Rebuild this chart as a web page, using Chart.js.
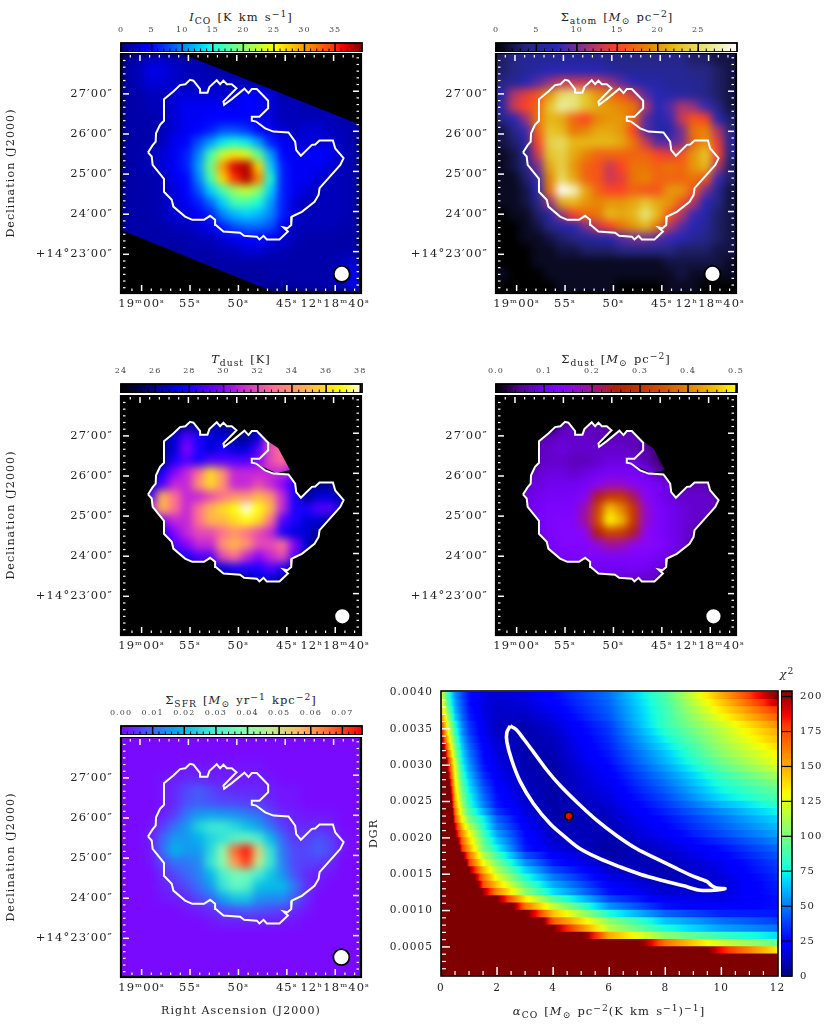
<!DOCTYPE html>
<html>
<head>
<meta charset="utf-8">
<script src="https://cdn.jsdelivr.net/npm/chart.js@4/dist/chart.umd.min.js"></script>
<style>
  html, body { margin: 0; padding: 0; background: #fff; }
  body { position: relative; width: 830px; height: 1030px; overflow: hidden; }
  canvas { position: absolute; }
  .lbl { position: absolute; transform: translate(-50%, -50%); white-space: nowrap; color: #222;
         font: 11.5px "DejaVu Serif", serif; word-spacing: 1.5px; letter-spacing: 1px; }
  .lbl sub, .lbl sup { font-size: 80%; line-height: 0; }
  .lbl sub { vertical-align: -3px; }
  .lbl sup { vertical-align: 4px; }
</style>
</head>
<body>
<canvas id="cbCo" width="300" height="26" style="left:91px;top:26px"></canvas>
<canvas id="cbAtom" width="300" height="26" style="left:466px;top:26px"></canvas>
<canvas id="cbTd" width="300" height="26" style="left:91px;top:367px"></canvas>
<canvas id="cbSd" width="300" height="26" style="left:466px;top:367px"></canvas>
<canvas id="cbSfr" width="300" height="26" style="left:91px;top:709px"></canvas>
<canvas id="mapCo" width="390" height="284" style="left:0;top:53px"></canvas>
<canvas id="mapAtom" width="390" height="284" style="left:375px;top:53px"></canvas>
<canvas id="mapTd" width="390" height="284" style="left:0;top:395px"></canvas>
<canvas id="mapSd" width="390" height="284" style="left:375px;top:395px"></canvas>
<canvas id="mapSfr" width="390" height="288" style="left:0;top:737px"></canvas>
<canvas id="chi2" width="425" height="345" style="left:367px;top:685px"></canvas>
<canvas id="cbChi" width="49" height="295" style="left:781px;top:686px"></canvas>

<div class="lbl" style="left:241px;top:17px"><i>I</i><sub>CO</sub> [K km s<sup>−1</sup>]</div>
<div class="lbl" style="left:617px;top:17px">Σ<sub>atom</sub> [<i>M</i><sub>⊙</sub> pc<sup>−2</sup>]</div>
<div class="lbl" style="left:241px;top:359px"><i>T</i><sub>dust</sub> [K]</div>
<div class="lbl" style="left:616px;top:359px">Σ<sub>dust</sub> [<i>M</i><sub>⊙</sub> pc<sup>−2</sup>]</div>
<div class="lbl" style="left:241px;top:700px">Σ<sub>SFR</sub> [<i>M</i><sub>⊙</sub> yr<sup>−1</sup> kpc<sup>−2</sup>]</div>
<div class="lbl" style="left:609px;top:1011px"><i>α</i><sub>CO</sub> [<i>M</i><sub>⊙</sub> pc<sup>−2</sup>(K km s<sup>−1</sup>)<sup>−1</sup>]</div>
<div class="lbl" style="left:787px;top:674px"><i>χ</i><sup>2</sup></div>

<script>
// map grid: RA seconds after 12h19m00s (increasing to the west), Dec arcmin above +14d23m
const gridRa = [-1.34, -0.10, 1.14, 2.38, 3.62, 4.86, 6.10, 7.34, 8.58, 9.82, 11.06, 12.30, 13.54, 14.78, 16.02, 17.26, 18.50, 19.74, 20.98, 22.22];
const gridDec = [4.87, 4.57, 4.27, 3.97, 3.67, 3.37, 3.07, 2.78, 2.48, 2.18, 1.88, 1.58, 1.28, 0.98, 0.68, 0.39, 0.09, -0.21, -0.51, -0.81];

const raTicks = [0, 5, 10, 15, 20];
const raLabels = ['19ᵐ00ˢ', '55ˢ', '50ˢ', '45ˢ', '12ʰ18ᵐ40ˢ'];
const decTicks = [4, 3, 2, 1, 0];
const decLabels = ['27′00″', '26′00″', '25′00″', '24′00″', '+14°23′00″'];

// I_CO [K km/s]
const coMap = [
  [1, 1.5, 2.5, 2.5, 2, 1.5, 1.5, 1.5, 1.5, 1.5, 1.5, 1.5, 1.5, 1.5, 1.5, 1.5, 1.5, 1.5, 1.5, 1.5],
  [1.5, 2, 3.5, 3.5, 2.5, 2, 2, 1.5, 1.5, 1.5, 1.5, 1.5, 1.5, 1.5, 1.5, 1.5, 1.5, 1.5, 1.5, 1.5],
  [1.5, 2, 3, 3, 2.5, 2, 2, 2, 2, 2, 1.5, 1.5, 1.5, 1.5, 1.5, 1.5, 1.5, 1.5, 1.5, 1.5],
  [1.5, 1.5, 2, 2, 3, 3, 3, 3, 3, 3, 5, 4, 3, 1.5, 1.5, 1.5, 1.5, 1.5, 1.5, 1.5],
  [1.5, 1.5, 2, 2, 3, 4, 4, 4, 4, 4, 5, 5, 3, 2, 2, 1.5, 1.5, 1.5, 1.5, 1.5],
  [1.5, 1.5, 1.5, 2, 3, 4, 4, 5, 5, 5, 5, 4, 3, 2, 2, 2, 2, 2, 1.5, 1.5],
  [1.5, 1.5, 1.5, 2, 3, 4, 5, 6, 8, 8, 7, 5, 4, 3, 2, 3, 3, 2, 2, 1.5],
  [1.5, 1.5, 1.5, 2, 4, 5, 8, 11, 14, 15, 14, 11, 6, 4, 3, 3, 3, 3, 2, 1.5],
  [1.5, 1.5, 2, 3, 4, 6, 10, 17, 23, 26, 24, 18, 11, 5, 4, 4, 5, 4, 2, 1.5],
  [1.5, 1.5, 2, 3, 4, 6, 11, 19, 30, 37, 38, 27, 13, 6, 4, 4, 4, 3, 2, 1.5],
  [1.5, 1.5, 1.5, 2, 4, 5, 10, 17, 27, 35, 38, 31, 15, 6, 4, 4, 3, 2, 2, 1.5],
  [1.5, 1.5, 1.5, 2, 3, 5, 8, 13, 17, 21, 23, 20, 13, 6, 4, 3, 2, 2, 2, 1.5],
  [1.5, 1.5, 1.5, 2, 3, 4, 6, 9, 13, 17, 17, 15, 11, 6, 3, 2, 2, 2, 2, 1.5],
  [1.5, 1.5, 1.5, 2, 3, 3, 4, 6, 10, 12, 13, 12, 10, 6, 3, 2, 2, 2, 2, 1.5],
  [1.5, 1.5, 1.5, 1.5, 2, 2, 3, 4, 6, 8, 9, 9, 8, 4, 2, 2, 2, 2, 1.5, 1.5],
  [1.5, 1.5, 1.5, 1.5, 1.5, 1.5, 2, 2, 3, 4, 5, 5, 4, 3, 2, 1.5, 1.5, 1.5, 1.5, 1.5],
  [1.5, 1.5, 1.5, 1.5, 1, 1.5, 1.5, 1.5, 2, 2, 3, 3, 2, 2, 1.5, 1.5, 1.5, 1.5, 1.5, 1.5],
  [1.5, 1.5, 1.5, 1.5, 1.5, 1.5, 1.5, 1, 1.5, 1.5, 1.5, 1.5, 1.5, 1.5, 1.5, 1.5, 1.5, 1.5, 2, 3],
  [1.5, 1.5, 1.5, 1.5, 1.5, 1.5, 1.5, 1.5, 1.5, 1, 1, 1, 1.5, 1.5, 1.5, 1.5, 1.5, 1.5, 2, 4],
  [1.5, 1.5, 1.5, 1.5, 1.5, 1.5, 1.5, 1.5, 1.5, 1.5, 1.5, 1.5, 1, 1, 1.5, 1.5, 1.5, 1.5, 2, 4],
];
// edge of the CO coverage
const coverRa = [-2.76, 3.31, 23.45, 23.45, 15.86, -2.76];
const coverDec = [5.1, 5.1, 3.16, -1.14, -1.14, 0.69];

// Sigma_atom [Msun/pc2]
const atomMap = [
  [3, 4, 5, 5, 5, 5, 5, 5, 5, 4, 4, 4, 4, 4, 4, 4, 3, 3, 2, 2],
  [3, 4, 5, 6, 7, 7, 7, 7, 7, 6, 5, 5, 5, 5, 5, 5, 4, 4, 3, 2],
  [4, 5, 7, 9, 11, 13, 13, 13, 13, 11, 9, 7, 6, 6, 5, 5, 5, 4, 3, 2],
  [6, 12, 14, 16, 20, 25, 26, 23, 20, 18, 16, 13, 9, 7, 6, 6, 5, 4, 3, 2],
  [6, 13, 15, 17, 23, 27, 26, 23, 21, 20, 19, 18, 12, 7, 9, 12, 11, 8, 4, 2],
  [4, 7, 11, 18, 22, 21, 17, 15, 19, 20, 20, 17, 9, 6, 8, 13, 16, 15, 7, 3],
  [2, 4, 8, 17, 23, 22, 18, 19, 21, 21, 20, 15, 9, 6, 6, 10, 18, 19, 12, 4],
  [2, 3, 6, 15, 24, 25, 22, 22, 22, 22, 21, 18, 13, 9, 9, 10, 17, 20, 14, 5],
  [1, 2, 5, 13, 23, 24, 21, 19, 17, 17, 17, 17, 17, 15, 14, 16, 20, 23, 15, 4],
  [1, 2, 4, 10, 21, 24, 20, 17, 16, 13, 15, 18, 18, 17, 18, 17, 20, 22, 12, 3],
  [1, 1, 3, 8, 19, 25, 21, 17, 16, 13, 14, 18, 19, 17, 17, 17, 18, 16, 8, 3],
  [1, 1, 2, 7, 18, 30, 28, 21, 17, 15, 15, 17, 16, 16, 20, 20, 16, 10, 5, 2],
  [1, 1, 2, 4, 11, 21, 22, 20, 19, 20, 20, 21, 23, 21, 20, 16, 12, 7, 4, 2],
  [0, 1, 1, 3, 6, 11, 15, 17, 18, 22, 21, 22, 26, 22, 16, 12, 8, 6, 3, 2],
  [0, 0, 1, 2, 4, 6, 7, 10, 13, 15, 18, 20, 22, 18, 12, 9, 7, 5, 3, 2],
  [0, 0, 1, 1, 2, 3, 4, 5, 6, 7, 9, 10, 10, 9, 8, 7, 5, 4, 3, 2],
  [0, 0, 0, 1, 1, 2, 2, 3, 3, 3, 4, 4, 4, 4, 4, 3, 3, 3, 2, 2],
  [0, 0, 0, 1, 1, 1, 1, 1, 1, 1, 1, 1, 1, 1, 2, 2, 2, 2, 2, 1],
  [1, 0, 0, 0, 1, 1, 1, 1, 1, 1, 1, 1, 1, 1, 1, 2, 1, 1, 1, 1],
  [0, 0, 0, 0, 0, 1, 1, 1, 1, 1, 0, 0, 0, 0, 1, 1, 1, 0, 0, 0],
];

// T_dust [K]
const tdustMap = [
  [24, 24, 24, 24, 24, 24, 24, 24, 24, 24, 24, 24, 24, 24, 24, 24, 24, 24, 24, 24],
  [24, 24, 24, 24, 24, 24, 24, 24, 24, 24, 24, 24, 24, 24, 24, 24, 24, 24, 24, 24],
  [24, 24, 24, 24, 25, 26, 26, 26, 26, 26, 26, 26, 28, 28, 24, 24, 24, 24, 24, 24],
  [24, 24, 24, 26, 27, 29, 28, 27, 27, 26, 26, 27, 32, 33, 31, 24, 24, 24, 24, 24],
  [24, 24, 24, 26, 27, 30, 28, 27, 28, 27, 27, 29, 32, 33, 31, 28, 24, 24, 24, 24],
  [24, 24, 24, 26, 28, 29, 28, 29, 29, 29, 29, 30, 32, 33, 31, 28, 24, 24, 24, 24],
  [24, 24, 26, 28, 30, 31, 33, 36, 34, 31, 31, 31, 31, 31, 30, 28, 24, 24, 24, 24],
  [24, 24, 27, 29, 31, 31, 34, 36, 34, 31, 31, 32, 31, 30, 28, 26, 26, 26, 26, 24],
  [24, 26, 29, 35, 33, 31, 31, 32, 33, 34, 34, 35, 34, 31, 28, 26, 27, 27, 26, 24],
  [24, 27, 31, 35, 33, 31, 33, 35, 36, 37, 38, 37, 35, 31, 28, 28, 29, 29, 27, 24],
  [24, 25, 28, 30, 31, 31, 33, 35, 35, 36, 37, 36, 33, 29, 28, 27, 27, 26, 25, 24],
  [24, 24, 26, 28, 30, 31, 32, 32, 33, 34, 33, 32, 31, 28, 27, 27, 26, 25, 24, 24],
  [24, 24, 25, 27, 29, 30, 31, 31, 34, 35, 34, 32, 32, 33, 30, 27, 25, 24, 24, 24],
  [24, 24, 24, 26, 27, 28, 29, 29, 32, 33, 31, 30, 31, 32, 29, 26, 24, 24, 24, 24],
  [24, 24, 24, 24, 25, 26, 26, 27, 27, 28, 28, 28, 29, 28, 26, 24, 24, 24, 24, 24],
  [24, 24, 24, 24, 24, 24, 24, 25, 26, 26, 26, 27, 27, 26, 24, 24, 24, 24, 24, 24],
  [24, 24, 24, 24, 24, 24, 24, 24, 24, 24, 24, 24, 24, 24, 24, 24, 24, 24, 24, 24],
];

// Sigma_dust [Msun/pc2]
const sdustMap = [
  [0, 0, 0, 0, 0, 0, 0, 0, 0, 0, 0, 0, 0, 0, 0, 0, 0, 0, 0, 0],
  [0, 0, 0, 0, 0, 0, 0, 0, 0, 0, 0, 0, 0, 0, 0, 0, 0, 0, 0, 0],
  [0, 0, 0, 0, 0, .06, .07, .07, .07, .06, .06, .06, 0, 0, 0, 0, 0, 0, 0, 0],
  [0, 0, 0, .06, .07, .08, .08, .08, .07, .07, .07, .07, .05, 0, 0, 0, 0, 0, 0, 0],
  [0, 0, 0, .07, .08, .09, .08, .08, .08, .08, .08, .07, .06, .04, 0, 0, 0, 0, 0, 0],
  [0, 0, 0, .07, .08, .08, .07, .07, .08, .09, .09, .09, .07, .04, 0, 0, 0, 0, 0, 0],
  [0, 0, .07, .08, .09, .09, .08, .09, .10, .11, .11, .11, .10, .07, .04, 0, 0, 0, 0, 0],
  [0, .06, .08, .09, .10, .10, .10, .11, .14, .17, .17, .14, .12, .11, .09, .07, .07, .07, 0, 0],
  [0, .06, .09, .10, .11, .11, .11, .14, .24, .30, .30, .22, .14, .11, .09, .08, .08, .08, .07, 0],
  [0, .06, .09, .11, .12, .12, .12, .19, .32, .46, .40, .30, .17, .12, .10, .09, .08, .08, .07, 0],
  [0, 0, .07, .10, .12, .13, .13, .20, .33, .50, .45, .30, .17, .12, .10, .09, .08, .07, 0, 0],
  [0, 0, .06, .09, .12, .13, .13, .15, .25, .32, .31, .24, .15, .12, .10, .09, .07, 0, 0, 0],
  [0, 0, 0, .08, .11, .13, .13, .13, .16, .20, .19, .15, .14, .13, .11, .09, .06, 0, 0, 0],
  [0, 0, 0, .07, .10, .11, .12, .12, .12, .12, .12, .12, .12, .11, .09, .06, 0, 0, 0, 0],
  [0, 0, 0, 0, .07, .09, .09, .10, .10, .10, .10, .11, .10, .09, .06, 0, 0, 0, 0, 0],
  [0, 0, 0, 0, 0, 0, 0, .06, .07, .08, .08, .08, .08, .07, 0, 0, 0, 0, 0, 0],
  [0, 0, 0, 0, 0, 0, 0, 0, 0, 0, 0, 0, 0, 0, 0, 0, 0, 0, 0, 0],
];

// Sigma_SFR [Msun/yr/kpc2]
const sfrMap = [
  [.001, .001, .001, .001, .001, .001, .001, .001, .001, .001, .001, .001, .001, .001, .001, .001, .001, .001, .001, .001],
  [.001, .001, .001, .001, .001, .001, .001, .001, .001, .001, .001, .001, .001, .001, .001, .001, .001, .001, .001, .001],
  [.001, .001, .001, .001, .001, .002, .002, .002, .002, .002, .002, .002, .001, .001, .001, .001, .001, .001, .001, .001],
  [.001, .001, .001, .002, .003, .004, .004, .003, .003, .003, .002, .003, .002, .001, .001, .001, .001, .001, .001, .001],
  [.001, .001, .001, .002, .004, .007, .009, .007, .005, .004, .004, .004, .003, .002, .002, .001, .001, .001, .001, .001],
  [.001, .001, .001, .002, .004, .008, .009, .008, .007, .007, .006, .006, .004, .002, .002, .001, .001, .001, .001, .001],
  [.001, .001, .001, .003, .006, .012, .016, .017, .016, .015, .013, .011, .007, .004, .003, .002, .002, .002, .001, .001],
  [.001, .001, .002, .006, .011, .016, .024, .028, .028, .025, .021, .017, .011, .006, .004, .004, .004, .003, .001, .001],
  [.001, .001, .003, .010, .016, .016, .019, .024, .027, .032, .035, .030, .020, .010, .005, .006, .008, .006, .002, .001],
  [.001, .001, .002, .011, .019, .016, .016, .025, .040, .066, .074, .052, .027, .012, .007, .007, .009, .007, .002, .001],
  [.001, .001, .002, .007, .011, .012, .014, .027, .040, .060, .070, .048, .028, .013, .007, .006, .006, .004, .001, .001],
  [.001, .001, .001, .004, .007, .010, .013, .020, .030, .036, .036, .029, .022, .015, .008, .004, .003, .002, .001, .001],
  [.001, .001, .001, .003, .005, .007, .011, .016, .027, .034, .032, .021, .020, .020, .012, .005, .002, .001, .001, .001],
  [.001, .001, .001, .002, .003, .004, .007, .010, .017, .022, .022, .015, .014, .014, .009, .004, .001, .001, .001, .001],
  [.001, .001, .001, .001, .001, .002, .003, .004, .007, .008, .009, .008, .007, .006, .004, .002, .001, .001, .001, .001],
  [.001, .001, .001, .001, .001, .001, .001, .002, .003, .003, .003, .003, .003, .002, .002, .001, .001, .001, .001, .001],
  [.001, .001, .001, .001, .001, .001, .001, .001, .001, .001, .001, .001, .001, .001, .001, .001, .001, .001, .001, .001],
  [.001, .001, .001, .001, .001, .001, .001, .001, .001, .001, .001, .001, .001, .001, .001, .001, .001, .001, .001, .001],
  [.001, .001, .001, .001, .001, .001, .001, .001, .001, .001, .001, .001, .001, .001, .001, .001, .001, .001, .001, .001],
  [.001, .001, .001, .001, .001, .001, .001, .001, .001, .001, .001, .001, .001, .001, .001, .001, .001, .001, .001, .001],
];

// mask contour, same on all five maps
const contourRa = [0.83, 1.28, 1.62, 1.66, 2.07, 2.48, 2.48, 3.45, 4.14, 4.69, 5.17, 5.52, 6.21, 6.21, 6.97, 7.17, 7.93, 8.28, 8.62, 8.97, 9.48, 9.97, 8.62, 8.69, 9.48, 10.79, 11.21, 11.55, 12.07, 13.24, 13.24, 12.34, 11.55, 11.55, 12.0, 12.93, 13.79, 15.34, 16.03, 16.14, 16.62, 17.76, 18.10, 18.55, 19.93, 20.17, 21.03, 20.69, 18.55, 18.45, 18.03, 16.72, 16.03, 15.69, 15.62, 15.24, 14.83, 15.28, 14.41, 13.10, 12.76, 12.34, 12.07, 10.76, 10.34, 8.62, 7.83, 7.76, 7.24, 6.62, 5.41, 4.66, 3.45, 3.28, 2.48, 2.48, 1.31, 1.21, 0.83];
const contourDec = [2.54, 2.71, 2.81, 3.02, 3.23, 3.33, 3.87, 4.06, 4.22, 4.24, 4.35, 4.33, 4.12, 4.03, 4.03, 4.17, 4.34, 4.24, 4.33, 4.24, 4.24, 4.14, 3.81, 3.73, 3.87, 4.13, 4.02, 4.12, 4.12, 3.83, 3.64, 3.43, 3.43, 3.33, 3.31, 3.14, 3.06, 3.04, 2.81, 2.60, 2.46, 2.73, 2.74, 2.84, 2.84, 2.64, 2.40, 2.23, 1.65, 1.48, 1.31, 1.06, 0.98, 0.94, 0.73, 0.65, 0.67, 0.57, 0.37, 0.37, 0.46, 0.37, 0.44, 0.46, 0.54, 0.57, 0.73, 0.86, 0.96, 0.86, 0.86, 0.94, 1.19, 1.36, 1.56, 1.88, 2.23, 2.44, 2.54];
// small patch of dust emission just outside the contour
const patchRa = [13.09, 13.26, 14.29, 15.5, 14.12, 11.5];
const patchDec = [3.61, 3.86, 3.69, 3.15, 3.07, 3.36];

// chi2 grid
const alphaCo = [0, 0.25, 0.5, 0.75, 1, 1.5, 2, 3, 4, 6, 8, 10, 12];
const dgrRows = [.00395, .00385, .00375, .00365, .00355, .00345, .00335, .00325, .00315, .00305, .00295, .00285, .00275, .00265, .00255, .00245, .00235, .00225, .00215, .00205, .00195, .00185, .00175, .00165, .00155, .00145, .00135, .00125, .00115, .00105, .00095, .00085, .00075, .00065, .00055, .00045, .00035, .00025, .00015];
const chi2Rows = [
  [125, 85, 55, 40, 28, 18, 15, 18, 26, 48, 90, 150, 205],
  [135, 90, 58, 42, 28, 18, 14, 16, 24, 46, 88, 142, 195],
  [150, 100, 62, 44, 30, 18, 13, 14, 21, 44, 86, 135, 180],
  [165, 110, 68, 47, 32, 19, 13, 12, 18, 42, 85, 128, 170],
  [180, 122, 78, 52, 36, 20, 12, 9, 15, 38, 85, 120, 158],
  [195, 130, 85, 55, 38, 21, 12, 8, 13, 36, 80, 115, 150],
  [210, 142, 92, 60, 42, 23, 14, 8, 11, 34, 75, 112, 145],
  [230, 155, 100, 65, 46, 25, 15, 8, 10, 32, 70, 108, 138],
  [250, 170, 108, 70, 50, 27, 16, 8, 9, 30, 65, 104, 132],
  [280, 185, 118, 74, 54, 28, 18, 8, 8, 28, 62, 98, 128],
  [300, 195, 125, 80, 58, 31, 19, 9, 7, 25, 57, 92, 120],
  [320, 205, 130, 86, 63, 35, 21, 10, 7, 23, 52, 85, 110],
  [340, 220, 136, 92, 68, 39, 24, 11, 7, 21, 48, 80, 102],
  [360, 235, 142, 98, 73, 44, 26, 12, 7, 19, 44, 75, 95],
  [380, 245, 148, 103, 78, 48, 28, 13, 7, 17, 40, 70, 90],
  [400, 260, 155, 110, 82, 52, 30, 15, 7, 15, 36, 62, 82],
  [420, 280, 165, 118, 90, 62, 36, 17, 7, 13, 32, 54, 75],
  [440, 300, 175, 130, 100, 75, 45, 20, 8, 11, 28, 48, 68],
  [460, 320, 195, 145, 115, 80, 50, 23, 10, 10, 25, 44, 63],
  [480, 340, 205, 158, 130, 88, 58, 26, 12, 9, 22, 40, 58],
  [500, 360, 225, 170, 140, 95, 66, 28, 14, 8, 18, 34, 52],
  [520, 380, 250, 180, 150, 100, 75, 30, 17, 6, 15, 28, 46],
  [540, 410, 290, 210, 168, 115, 88, 42, 24, 8, 12, 24, 42],
  [560, 440, 320, 240, 180, 130, 100, 55, 30, 10, 10, 20, 38],
  [580, 470, 360, 270, 205, 148, 112, 68, 40, 14, 9, 18, 36],
  [600, 500, 400, 310, 230, 165, 125, 80, 50, 18, 9, 16, 33],
  [620, 520, 440, 345, 260, 175, 142, 92, 60, 23, 11, 15, 31],
  [640, 540, 470, 380, 300, 200, 160, 105, 70, 28, 14, 16, 30],
  [660, 560, 500, 420, 350, 260, 205, 135, 92, 40, 20, 18, 28],
  [680, 580, 530, 470, 400, 320, 260, 165, 118, 55, 28, 22, 28],
  [700, 620, 570, 520, 460, 380, 310, 210, 145, 78, 45, 32, 30],
  [720, 650, 600, 570, 520, 440, 370, 270, 170, 105, 65, 48, 38],
  [700, 650, 620, 600, 560, 470, 400, 300, 205, 115, 78, 58, 48],
  [720, 700, 680, 660, 640, 570, 500, 390, 280, 150, 105, 85, 70],
  [750, 730, 710, 700, 680, 640, 600, 500, 400, 260, 165, 120, 95],
  [800, 780, 760, 740, 720, 700, 680, 600, 520, 390, 280, 185, 135],
  [800, 800, 800, 800, 800, 800, 800, 800, 800, 800, 800, 800, 800],
  [800, 800, 800, 800, 800, 800, 800, 800, 800, 800, 800, 800, 800],
  [800, 800, 800, 800, 800, 800, 800, 800, 800, 800, 800, 800, 800],
];
const ellipseAlpha = [2.47, 2.68, 2.95, 3.30, 3.78, 4.25, 4.85, 5.56, 6.27, 6.98, 7.70, 8.29, 8.88, 9.48, 9.66, 9.83, 10.13, 9.77, 9.24, 8.65, 7.93, 7.10, 6.39, 5.68, 4.96, 4.43, 3.90, 3.30, 2.83, 2.53, 2.35, 2.35, 2.47];
const ellipseDgr = [.00354, .00349, .00336, .00318, .00293, .00272, .00249, .00224, .00203, .00185, .00171, .00160, .00149, .00140, .00134, .00131, .00130, .00128, .00128, .00134, .00141, .00150, .00160, .00171, .00185, .00201, .00219, .00247, .00277, .00306, .00332, .00345, .00354];
const bestAlpha = [4.56];
const bestDgr = [.0023];

// colour tables: position, r, g, b
const JET = [[0, 0, 0, 127], [.11, 0, 0, 255], [.125, 0, 0, 255], [.34, 0, 220, 255], [.375, 20, 255, 222], [.64, 250, 255, 0], [.66, 255, 234, 0], [.89, 255, 48, 0], [.91, 255, 0, 0], [1, 127, 0, 0]];
const CMR = [[0, 0, 0, 0], [.125, 38, 38, 128], [.25, 38, 38, 191], [.375, 153, 51, 128], [.5, 255, 64, 38], [.625, 230, 128, 0], [.75, 230, 191, 26], [.875, 230, 230, 128], [1, 255, 255, 255]];
const GNU2 = [[0, 0, 0, 0], [.125, 0, 0, 128], [.25, 0, 0, 255], [.375, 99, 0, 255], [.42, 134, 0, 255], [.5, 199, 41, 214], [.625, 255, 105, 150], [.75, 255, 168, 87], [.875, 255, 232, 23], [.92, 255, 255, 0], [1, 255, 255, 255]];
const GNU = [[0, 0, 0, 0], [.1, 81, 0, 150], [.2, 114, 2, 242], [.25, 128, 4, 255], [.3, 140, 7, 242], [.4, 161, 16, 150], [.5, 181, 32, 0], [.6, 198, 55, 0], [.7, 213, 87, 0], [.8, 228, 131, 0], [.9, 242, 186, 0], [1, 255, 255, 0]];
const RAINBOW = [[0, 128, 0, 255], [.125, 64, 98, 250], [.25, 0, 181, 235], [.375, 64, 236, 212], [.5, 128, 255, 180], [.625, 192, 236, 141], [.75, 255, 181, 98], [.875, 255, 98, 49], [1, 255, 0, 0]];

const SERIF = '"DejaVu Serif", serif';
const INK = '#222';

Chart.defaults.animation = false;
Chart.defaults.responsive = false;
Chart.defaults.events = [];
Chart.defaults.color = INK;
Chart.defaults.font.family = SERIF;
Chart.defaults.layout.autoPadding = false;
Chart.defaults.plugins.legend.display = false;
Chart.defaults.plugins.tooltip.enabled = false;

// Computer Modern runs wide, so open up the canvas text a little
Chart.register({
  id: 'wideText',
  beforeDraw(chart) { chart.ctx.letterSpacing = '1.1px'; },
});

function colorAt(table, t) {
  t = Math.max(0, Math.min(1, t));
  for (let i = 1; i < table.length; i++) {
    if (t <= table[i][0]) {
      const a = table[i - 1], b = table[i];
      const f = (t - a[0]) / (b[0] - a[0]);
      return `rgb(${Math.round(a[1] + (b[1] - a[1]) * f)},${Math.round(a[2] + (b[2] - a[2]) * f)},${Math.round(a[3] + (b[3] - a[3]) * f)})`;
    }
  }
  return 'rgb(255,255,255)';
}

function contourPoints() {
  return contourRa.map((x, i) => ({ x, y: contourDec[i] }));
}

function tracePoly(ctx, chart, xs, ys) {
  xs.forEach((x, i) => {
    const px = chart.scales.x.getPixelForValue(x);
    const py = chart.scales.y.getPixelForValue(ys[i]);
    if (i === 0) ctx.moveTo(px, py); else ctx.lineTo(px, py);
  });
  ctx.closePath();
}

function whiteTick(ctx, x1, y1, x2, y2, w) {
  ctx.lineWidth = w;
  ctx.beginPath();
  ctx.moveTo(x1, y1);
  ctx.lineTo(x2, y2);
  ctx.stroke();
}

// background, smoothing of the cells, masking and inward ticks of a map panel
function mapPlugin(polys) {
  return {
    id: 'mapPanel',
    beforeDatasetsDraw(chart) {
      const a = chart.chartArea;
      chart.ctx.fillStyle = '#000';
      chart.ctx.fillRect(a.left, a.top, a.width, a.height);
    },
    afterDatasetDraw(chart, args) {
      if (chart.data.datasets[args.index].label !== 'heat') return;
      const a = chart.chartArea, ctx = chart.ctx;
      const off = document.createElement('canvas');
      off.width = a.width;
      off.height = a.height;
      off.getContext('2d').drawImage(chart.canvas, a.left, a.top, a.width, a.height, 0, 0, a.width, a.height);
      ctx.save();
      if (polys) {
        ctx.fillStyle = '#000';
        ctx.fillRect(a.left, a.top, a.width, a.height);
        ctx.beginPath();
        polys.forEach((p) => tracePoly(ctx, chart, p[0], p[1]));
        ctx.clip();
      }
      ctx.beginPath();
      ctx.rect(a.left, a.top, a.width, a.height);
      ctx.clip();
      ctx.filter = 'blur(4px)';
      ctx.drawImage(off, a.left, a.top);
      ctx.restore();
    },
    afterDatasetsDraw(chart) {
      const a = chart.chartArea, ctx = chart.ctx, sx = chart.scales.x, sy = chart.scales.y;
      ctx.save();
      ctx.strokeStyle = '#fff';
      for (let s = -1; s <= 22; s++) {
        const major = raTicks.includes(s);
        const len = major ? 6 : 2.5, w = major ? 1.5 : 1.2;
        whiteTick(ctx, sx.getPixelForValue(s), a.top + 2, sx.getPixelForValue(s), a.top + 2 + len, w);
        const bx = sx.getPixelForValue(s + 0.17);
        whiteTick(ctx, bx, a.bottom - 2, bx, a.bottom - 2 - len, w);
      }
      for (let k = -5; k <= 29; k++) {
        const major = k % 6 === 0;
        const len = major ? 6 : 2.5, w = major ? 1.5 : 1.2;
        const ly = sy.getPixelForValue(k / 6), ry = sy.getPixelForValue(k / 6 + 0.067);
        whiteTick(ctx, a.left + 2, ly, a.left + 2 + len, ly, w);
        whiteTick(ctx, a.right - 2, ry, a.right - 2 - len, ry, w);
      }
      ctx.strokeStyle = '#000';
      ctx.lineWidth = 2.2;
      ctx.strokeRect(a.left, a.top, a.width, a.height);
      ctx.restore();
    },
  };
}

function drawMap(id, rows, table, lo, hi, beamRa, beamDec, opts) {
  const cells = [];
  rows.forEach((row, r) => row.forEach((v, c) => {
    cells.push({ x: gridRa[c], y: gridDec[r], v });
  }));
  new Chart(document.getElementById(id), {
    type: 'scatter',
    data: {
      datasets: [
        {
          label: 'contour', data: contourPoints(), showLine: true, order: 1,
          borderColor: '#fff', borderWidth: 2, pointRadius: 0,
        },
        {
          label: 'beam', data: [{ x: beamRa, y: beamDec }], order: 0,
          backgroundColor: '#fff', borderColor: '#000', borderWidth: 1.8, pointRadius: 8,
        },
        {
          label: 'heat', data: cells, order: 5,
          pointStyle: 'rect', pointRadius: 9.2, borderWidth: 0,
          backgroundColor: (ctx) => (ctx.raw ? colorAt(table, (ctx.raw.v - lo) / (hi - lo)) : '#000'),
        },
      ],
    },
    options: {
      layout: { padding: { right: 29 } },
      scales: {
        x: {
          type: 'linear', min: -1.96, max: 22.83,
          grid: { display: false, drawTicks: false }, border: { display: false },
          afterBuildTicks: (s) => { s.ticks = raTicks.map((v) => ({ value: v + 0.17 })); },
          ticks: { autoSkip: false, maxRotation: 0, padding: 4, font: { size: 11.5 }, callback: (v, i) => raLabels[i] },
          title: { display: !!opts.xTitle, text: opts.xTitle || '', font: { size: 11 }, padding: { top: 0, bottom: 7 } },
          afterFit: (s) => { s.height = opts.bottomH; s.paddingLeft = 0; s.paddingRight = 0; },
        },
        y: {
          type: 'linear', min: -0.965, max: 5.02,
          grid: { display: false, drawTicks: false }, border: { display: false },
          afterBuildTicks: (s) => { s.ticks = decTicks.map((v) => ({ value: v })); },
          ticks: { autoSkip: false, padding: 8, font: { size: 11.5 }, callback: (v, i) => decLabels[i] },
          title: { display: !!opts.yTitle, text: opts.yTitle || '', font: { size: 11 }, padding: { top: 5, bottom: 0 } },
          afterFit: (s) => { s.width = 121; s.paddingTop = 0; s.paddingBottom = 0; },
        },
      },
    },
    plugins: [mapPlugin(opts.polys)],
  });
}

function drawColorBar(id, lo, hi, ticks, labels, table, minorStep) {
  new Chart(document.getElementById(id), {
    type: 'bar',
    data: {
      labels: ['bar'],
      datasets: [{
        data: [[lo, hi]], barPercentage: 1, categoryPercentage: 1,
        backgroundColor: (ctx) => {
          const a = ctx.chart.chartArea;
          if (!a) return '#000';
          const g = ctx.chart.ctx.createLinearGradient(a.left, 0, a.right, 0);
          for (let i = 0; i <= 60; i++) g.addColorStop(i / 60, colorAt(table, i / 60));
          return g;
        },
      }],
    },
    options: {
      indexAxis: 'y',
      layout: { padding: { left: 30, right: 29 } },
      scales: {
        x: {
          type: 'linear', position: 'top', min: lo, max: hi,
          grid: { display: false, drawTicks: false }, border: { display: false },
          afterBuildTicks: (s) => { s.ticks = ticks.map((v) => ({ value: v })); },
          ticks: { autoSkip: false, maxRotation: 0, padding: 8, color: '#444', font: { size: 8 }, callback: (v, i) => labels[i] },
          afterFit: (s) => { s.height = 17; s.paddingLeft = 0; s.paddingRight = 0; },
        },
        y: { display: false },
      },
    },
    plugins: [{
      id: 'barTicks',
      afterDatasetsDraw(chart) {
        const a = chart.chartArea, ctx = chart.ctx, sx = chart.scales.x;
        ctx.save();
        ctx.strokeStyle = '#000';
        ctx.lineWidth = 1;
        for (let v = lo; v < hi; v += minorStep) {
          const px = sx.getPixelForValue(v);
          ctx.beginPath();
          ctx.moveTo(px, a.bottom);
          ctx.lineTo(px, a.bottom - 3.5);
          ctx.stroke();
        }
        ctx.lineWidth = 1.5;
        ticks.forEach((v) => {
          const px = sx.getPixelForValue(v);
          ctx.beginPath();
          ctx.moveTo(px, a.top);
          ctx.lineTo(px, a.bottom);
          ctx.stroke();
        });
        ctx.lineWidth = 1.8;
        ctx.strokeRect(a.left, a.top, a.width, a.height);
        ctx.restore();
      },
    }],
  });
}

function drawChi2() {
  const CHI_MAX = 204;
  new Chart(document.getElementById('chi2'), {
    type: 'bar',
    data: {
      datasets: [
        {
          type: 'line', label: 'ellipse', order: 1, tension: 0.3,
          data: ellipseAlpha.map((x, i) => ({ x, y: ellipseDgr[i] })),
          borderColor: '#fff', borderWidth: 3.6, pointRadius: 0,
        },
        {
          type: 'line', label: 'best', order: 0, showLine: false,
          data: bestAlpha.map((x, i) => ({ x, y: bestDgr[i] })),
          backgroundColor: '#f00', borderColor: '#000', borderWidth: 2, pointRadius: 4,
        },
        {
          type: 'bar', label: 'chi2', order: 5,
          data: dgrRows.map((y) => ({ x: [0, 12.02], y })),
          barThickness: 8,
          backgroundColor: (ctx) => {
            const chart = ctx.chart;
            if (!chart.chartArea || !chi2Rows[ctx.dataIndex]) return '#000';
            const row = chi2Rows[ctx.dataIndex];
            const x0 = chart.scales.x.getPixelForValue(0), x1 = chart.scales.x.getPixelForValue(12.02);
            const g = chart.ctx.createLinearGradient(x0, 0, x1, 0);
            for (let i = 0; i < row.length - 1; i++) {
              for (let k = 0; k < 8; k++) {
                const f = k / 8;
                const a = alphaCo[i] + (alphaCo[i + 1] - alphaCo[i]) * f;
                const v = row[i] + (row[i + 1] - row[i]) * f;
                g.addColorStop(a / 12.02, colorAt(JET, v / CHI_MAX));
              }
            }
            g.addColorStop(12 / 12.02, colorAt(JET, row[row.length - 1] / CHI_MAX));
            return g;
          },
        },
      ],
    },
    options: {
      indexAxis: 'y',
      layout: { padding: { top: 6, right: 14 } },
      scales: {
        x: {
          type: 'linear', min: 0, max: 12.02,
          grid: { display: false, drawTicks: false }, border: { display: false },
          afterBuildTicks: (s) => { s.ticks = [0, 2, 4, 6, 8, 10, 12].map((v) => ({ value: v })); },
          ticks: { autoSkip: false, maxRotation: 0, padding: 6, font: { size: 10.5 }, callback: (v) => String(v) },
          afterFit: (s) => { s.height = 54; s.paddingLeft = 0; s.paddingRight = 0; },
        },
        y: {
          type: 'linear', min: 0.0001, max: 0.00402, offset: false,
          grid: { display: false, drawTicks: false }, border: { display: false },
          afterBuildTicks: (s) => { s.ticks = [.004, .0035, .003, .0025, .002, .0015, .001, .0005].map((v) => ({ value: v })); },
          ticks: { autoSkip: false, padding: 8, font: { size: 10.5 }, callback: (v) => v.toFixed(4) },
          title: { display: true, text: 'DGR', font: { size: 11 }, padding: { top: 1, bottom: 0 } },
          afterFit: (s) => { s.width = 74; s.paddingTop = 0; s.paddingBottom = 0; },
        },
      },
    },
    plugins: [{
      id: 'chiFrame',
      afterDatasetsDraw(chart) {
        const a = chart.chartArea, ctx = chart.ctx, sx = chart.scales.x, sy = chart.scales.y;
        ctx.save();
        ctx.strokeStyle = '#fff';
        for (let i = 1; i < 24; i++) {
          const px = sx.getPixelForValue(i * 0.5);
          const major = i % 4 === 0;
          whiteTick(ctx, px, a.bottom - 1, px, a.bottom - (major ? 9 : 5), major ? 1.5 : 1.2);
        }
        for (let i = 2; i < 40; i++) {
          const py = sy.getPixelForValue(i * 0.0001);
          const major = i % 5 === 0;
          whiteTick(ctx, a.left + 1, py, a.left + (major ? 9 : 5), py, major ? 1.5 : 1.2);
        }
        ctx.strokeStyle = '#000';
        ctx.lineWidth = 1.6;
        ctx.strokeRect(a.left, a.top, a.width, a.height);
        ctx.restore();
      },
    }],
  });
}

function drawChiBar() {
  const ticks = [0, 25, 50, 75, 100, 125, 150, 175, 200];
  new Chart(document.getElementById('cbChi'), {
    type: 'bar',
    data: {
      labels: ['bar'],
      datasets: [{
        data: [[0, 204]], barPercentage: 1, categoryPercentage: 1,
        backgroundColor: (ctx) => {
          const a = ctx.chart.chartArea;
          if (!a) return '#000';
          const g = ctx.chart.ctx.createLinearGradient(0, a.bottom, 0, a.top);
          for (let i = 0; i <= 60; i++) g.addColorStop(i / 60, colorAt(JET, i / 60));
          return g;
        },
      }],
    },
    options: {
      layout: { padding: { top: 5, bottom: 5 } },
      scales: {
        x: { display: false },
        y: {
          type: 'linear', position: 'right', min: 0, max: 204,
          grid: { display: false, drawTicks: false }, border: { display: false },
          afterBuildTicks: (s) => { s.ticks = ticks.map((v) => ({ value: v })); },
          ticks: { autoSkip: false, padding: 8, font: { size: 10 }, callback: (v) => String(v) },
          afterFit: (s) => { s.width = 38; s.paddingTop = 0; s.paddingBottom = 0; },
        },
      },
    },
    plugins: [{
      id: 'chiBarTicks',
      afterDatasetsDraw(chart) {
        const a = chart.chartArea, ctx = chart.ctx, sy = chart.scales.y;
        ctx.save();
        ctx.strokeStyle = '#000';
        ctx.lineWidth = 1.2;
        ticks.forEach((v) => {
          const py = sy.getPixelForValue(v);
          ctx.beginPath();
          ctx.moveTo(a.left, py);
          ctx.lineTo(a.right, py);
          ctx.stroke();
        });
        ctx.lineWidth = 1.6;
        ctx.strokeRect(a.left, a.top, a.width, a.height);
        ctx.restore();
      },
    }],
  });
}

const maskPolys = [[contourRa, contourDec], [patchRa, patchDec]];

drawColorBar('cbCo', 0, 39.4, [0, 5, 10, 15, 20, 25, 30, 35], ['0', '5', '10', '15', '20', '25', '30', '35'], JET, 1);
drawColorBar('cbAtom', 0, 29.8, [0, 5, 10, 15, 20, 25], ['0', '5', '10', '15', '20', '25'], CMR, 1);
drawColorBar('cbTd', 24, 38.1, [24, 26, 28, 30, 32, 34, 36, 38], ['24', '26', '28', '30', '32', '34', '36', '38'], GNU2, 0.4);
drawColorBar('cbSd', 0, 0.502, [0, .1, .2, .3, .4, .5], ['0.0', '0.1', '0.2', '0.3', '0.4', '0.5'], GNU, 0.02);
drawColorBar('cbSfr', 0, 0.0762, [0, .01, .02, .03, .04, .05, .06, .07], ['0.00', '0.01', '0.02', '0.03', '0.04', '0.05', '0.06', '0.07'], RAINBOW, 0.002);

drawMap('mapCo', coMap, JET, 0, 39.4, 20.84, -0.49, { bottomH: 44, yTitle: 'Declination (J2000)', polys: [[coverRa, coverDec]] });
drawMap('mapAtom', atomMap, CMR, 0, 29.8, 20.4, -0.49, { bottomH: 44 });
drawMap('mapTd', tdustMap, GNU2, 24, 38.1, 20.9, -0.5, { bottomH: 44, polys: maskPolys, yTitle: 'Declination (J2000)' });
drawMap('mapSd', sdustMap, GNU, 0, 0.502, 20.5, -0.5, { bottomH: 44, polys: maskPolys });
drawMap('mapSfr', sfrMap, RAINBOW, 0, 0.0762, 20.8, -0.47, { bottomH: 48, yTitle: 'Declination (J2000)', xTitle: 'Right Ascension (J2000)' });
drawChi2();
drawChiBar();
</script>
</body>
</html>
